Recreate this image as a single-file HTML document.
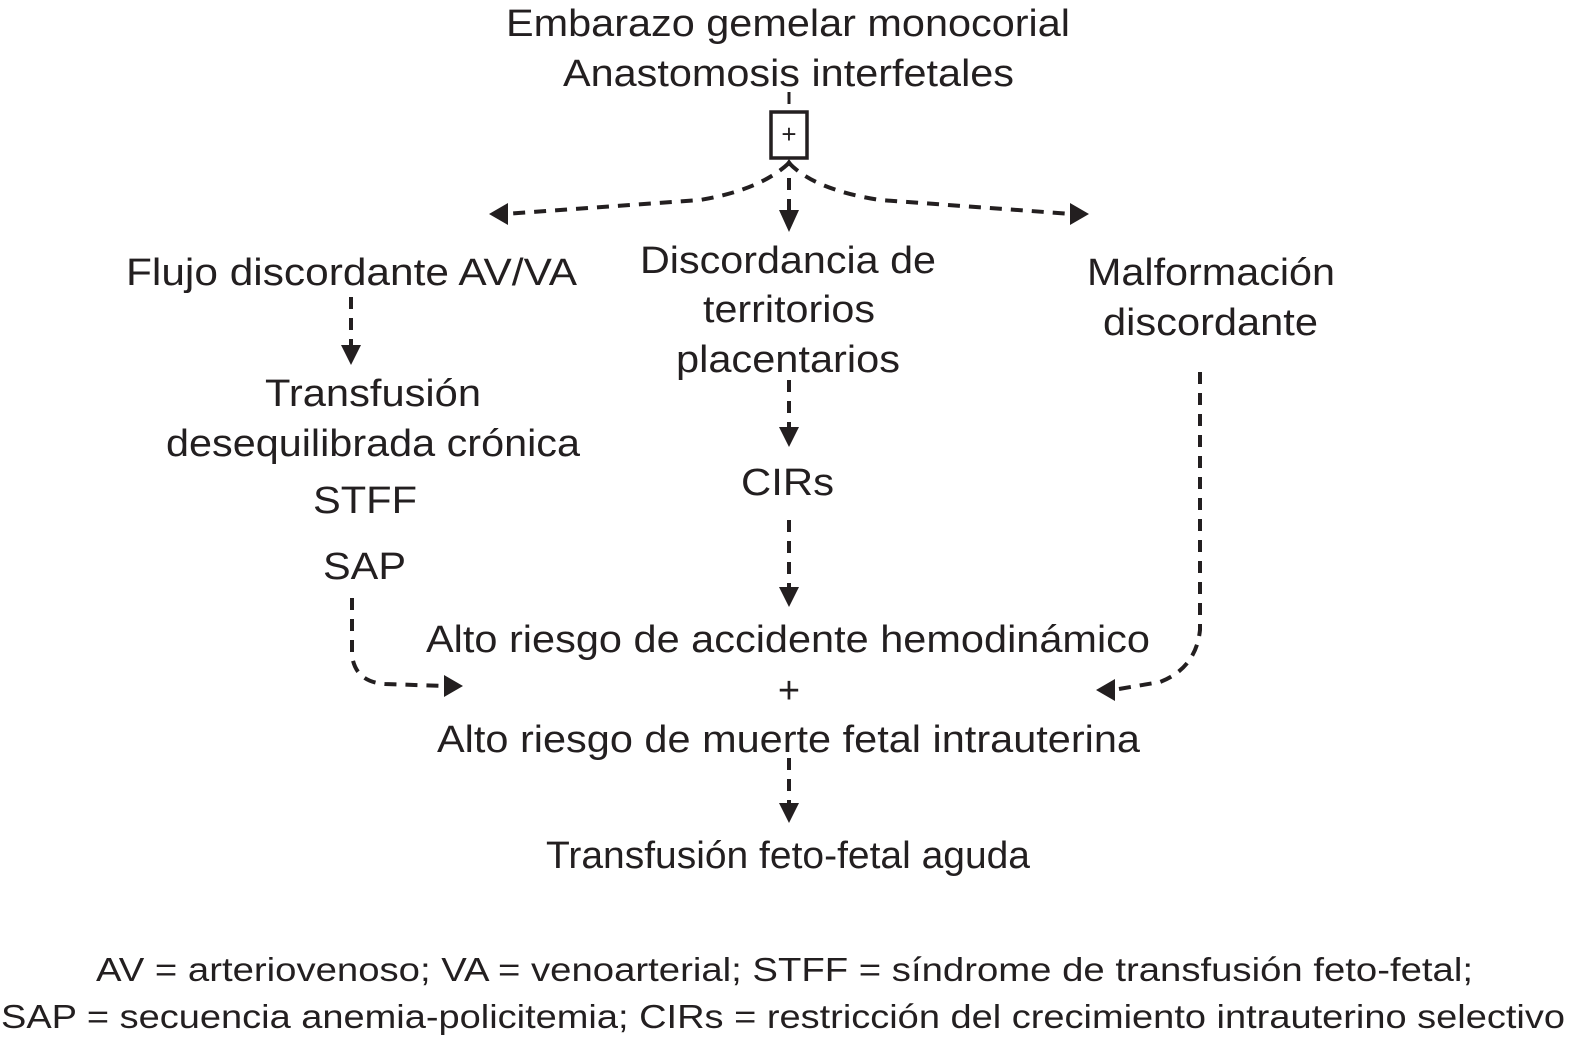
<!DOCTYPE html>
<html><head><meta charset="utf-8"><style>
html,body{margin:0;padding:0;background:#fff}
svg{display:block}
text{font-family:"Liberation Sans",Arial,sans-serif;fill:#231f20}
</style></head><body>
<svg width="1571" height="1048" viewBox="0 0 1571 1048" xmlns="http://www.w3.org/2000/svg">
<defs>
<marker id="ah" viewBox="0 0 10 10" refX="9" refY="5" markerWidth="6" markerHeight="6" markerUnits="userSpaceOnUse" orient="auto">
</marker>
</defs>
<g font-size="38" text-anchor="start">
<text x="506" y="36" textLength="564" lengthAdjust="spacingAndGlyphs">Embarazo gemelar monocorial</text>
<text x="563" y="86" textLength="451" lengthAdjust="spacingAndGlyphs">Anastomosis interfetales</text>
<text x="126" y="285" textLength="451" lengthAdjust="spacingAndGlyphs">Flujo discordante AV/VA</text>
<text x="640" y="273" textLength="296" lengthAdjust="spacingAndGlyphs">Discordancia de</text>
<text x="703" y="322" textLength="172" lengthAdjust="spacingAndGlyphs">territorios</text>
<text x="676" y="372" textLength="224" lengthAdjust="spacingAndGlyphs">placentarios</text>
<text x="1087" y="285" textLength="248" lengthAdjust="spacingAndGlyphs">Malformación</text>
<text x="1103" y="335" textLength="215" lengthAdjust="spacingAndGlyphs">discordante</text>
<text x="265" y="406" textLength="216" lengthAdjust="spacingAndGlyphs">Transfusión</text>
<text x="166" y="456" textLength="414" lengthAdjust="spacingAndGlyphs">desequilibrada crónica</text>
<text x="313" y="513" textLength="104" lengthAdjust="spacingAndGlyphs">STFF</text>
<text x="323" y="579" textLength="83" lengthAdjust="spacingAndGlyphs">SAP</text>
<text x="741" y="495" textLength="93" lengthAdjust="spacingAndGlyphs">CIRs</text>
<text x="426" y="652" textLength="724" lengthAdjust="spacingAndGlyphs">Alto riesgo de accidente hemodinámico</text>
<text x="789" y="703" text-anchor="middle">+</text>
<text x="437" y="752" textLength="703" lengthAdjust="spacingAndGlyphs">Alto riesgo de muerte fetal intrauterina</text>
<text x="546" y="868" textLength="484" lengthAdjust="spacingAndGlyphs">Transfusión feto-fetal aguda</text>
</g>
<g font-size="33">
<text x="96" y="981" textLength="1377" lengthAdjust="spacingAndGlyphs">AV = arteriovenoso; VA = venoarterial; STFF = síndrome de transfusión feto-fetal;</text>
<text x="1" y="1028" textLength="1564" lengthAdjust="spacingAndGlyphs">SAP = secuencia anemia-policitemia; CIRs = restricción del crecimiento intrauterino selectivo</text>
</g>
<!-- box -->
<line x1="789" y1="92" x2="789" y2="104" stroke="#231f20" stroke-width="3"/>
<rect x="771" y="112" width="36" height="46" fill="none" stroke="#231f20" stroke-width="3.5"/>
<text x="789" y="143" font-size="26" text-anchor="middle">+</text>
<g fill="none" stroke="#231f20" stroke-width="4" stroke-dasharray="12,9">
<path d="M789 163 Q760 190 700 200 L505 214"/>
<path d="M789 163 Q815 190 880 200 L1072 214"/>
<line x1="789" y1="178" x2="789" y2="212"/>
<line x1="351" y1="297" x2="351" y2="345"/>
<line x1="789" y1="380" x2="789" y2="428"/>
<line x1="789" y1="520" x2="789" y2="588"/>
<path d="M352 598 L352 655 Q355 682 385 684 L446 686"/>
<path d="M1200 372 L1200 630 Q1196 668 1160 682 L1113 690"/>
<line x1="789" y1="758" x2="789" y2="804"/>
</g>
<g fill="#231f20">
<polygon points="489,214 508,203 508,225"/>
<polygon points="1089,214 1070,203 1070,225"/>
<polygon points="789,232 779,210 799,210"/>
<polygon points="789,159 784,166 794,166"/>
<polygon points="351,365 341,345 361,345"/>
<polygon points="789,447 779,427 799,427"/>
<polygon points="789,607 779,587 799,587"/>
<polygon points="463,686 444,675 444,697"/>
<polygon points="1096,690 1115,679 1115,701"/>
<polygon points="789,823 779,803 799,803"/>
</g>
</svg>
</body></html>
